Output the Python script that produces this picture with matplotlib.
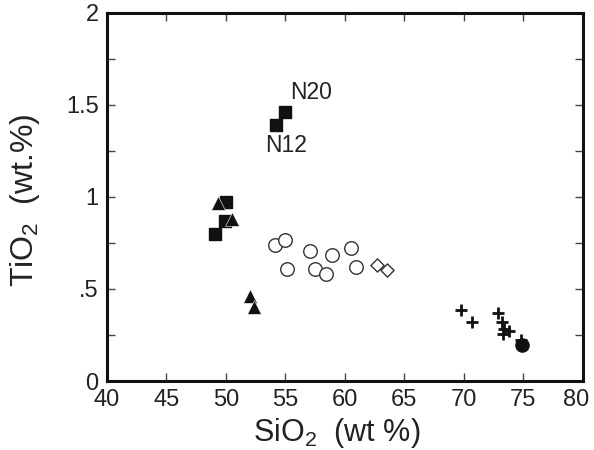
import matplotlib
matplotlib.use("Agg")
import matplotlib.pyplot as plt
from matplotlib.ticker import MultipleLocator

plt.rcParams["font.family"] = ["Liberation Sans", "DejaVu Sans"]
plt.rcParams["mathtext.default"] = "regular"

# -----------------------------
# data (SiO2 wt%, TiO2 wt%)
# -----------------------------
sq_x = [55.0, 54.2, 50.0, 49.9, 49.1]
sq_y = [1.46, 1.39, 0.97, 0.87, 0.80]

tri_x = [49.3, 50.5, 52.0, 52.35]
tri_y = [0.965, 0.88, 0.46, 0.40]

circ_x = [54.1, 55.0, 57.1, 58.9, 60.5, 55.1, 57.5, 58.4, 60.9]
circ_y = [0.74, 0.766, 0.708, 0.685, 0.72, 0.607, 0.607, 0.58, 0.618]

dia_x = [62.7, 63.55]
dia_y = [0.63, 0.603]

cross_x = [69.8, 70.7, 72.9, 73.25, 73.4, 73.8, 73.3, 74.85]
cross_y = [0.386, 0.322, 0.37, 0.32, 0.28, 0.273, 0.255, 0.225]

dot_x = [74.9]
dot_y = [0.196]

labels = ["N20", "N12"]
label_x = [55.4, 53.3]
label_y = [1.565, 1.28]

x_ticks = [40, 45, 50, 55, 60, 65, 70, 75, 80]
y_ticks = [0, 0.5, 1, 1.5, 2]
y_ticklabels = ["0", ".5", "1", "1.5", "2"]

# -----------------------------
# figure
# -----------------------------
fig = plt.figure(figsize=(5.94, 4.5), dpi=100)
ax = fig.add_axes([0.180, 0.1533, 0.801, 0.818])

ax.scatter(cross_x, cross_y, marker="+", s=75, linewidths=2, color="#111111", zorder=3)
ax.scatter(dot_x, dot_y, marker="o", s=90, color="#111111", zorder=4)
ax.scatter(circ_x, circ_y, marker="o", s=95, facecolors="white", edgecolors="#333333",
           linewidths=1.0, zorder=3)
ax.scatter(dia_x, dia_y, marker="D", s=45, facecolors="white", edgecolors="#333333",
           linewidths=1.0, zorder=3)
ax.scatter(sq_x, sq_y, marker="s", s=80, color="#111111", zorder=3)
ax.scatter(tri_x, tri_y, marker="^", s=100, color="#111111", edgecolors="white",
           linewidths=0.4, zorder=4)

for t, x, y in zip(labels, label_x, label_y):
    ax.text(x, y, t, fontsize=16.5, ha="left", va="center", color="#222222")

ax.set_xlim(40, 80)
ax.set_ylim(0, 2)
ax.set_xticks(x_ticks)
ax.set_xticklabels([str(v) for v in x_ticks[:-1]] + [""])
ax.yaxis.set_minor_locator(MultipleLocator(0.25))
ax.set_yticks(y_ticks)
ax.set_yticklabels(y_ticklabels)

ax.tick_params(which="both", direction="in", top=True, right=True,
               width=1, color="#444444", labelsize=17, labelcolor="#222222")
ax.tick_params(which="major", length=6, pad=6)
ax.tick_params(which="minor", length=6)
for s in ax.spines.values():
    s.set_linewidth(2.2)
    s.set_color("#111111")

# last x label ("80") drawn separately, nudged left so it stays on the canvas,
# at the same height as the other tick labels
fig.canvas.draw()
bb = ax.get_xticklabels()[0].get_window_extent()
dy = (bb.y1 - ax.transAxes.transform((0, 0))[1]) * 72 / fig.dpi
ax.annotate(str(x_ticks[-1]), xy=(x_ticks[-1], 0), xycoords=("data", "axes fraction"),
            xytext=(-4.5, dy), textcoords="offset points", ha="center", va="top",
            fontsize=17, color="#222222", annotation_clip=False)

ax.set_xlabel("SiO$_2$  (wt %)", fontsize=22, color="#222222", labelpad=0)
ax.xaxis.set_label_coords(0.484, -0.095)
ax.set_ylabel("TiO$_2$  (wt.%)", fontsize=23, color="#222222")
ax.yaxis.set_label_coords(-0.136, 0.49)

fig.savefig("out.png", dpi=100)
plt.close()
